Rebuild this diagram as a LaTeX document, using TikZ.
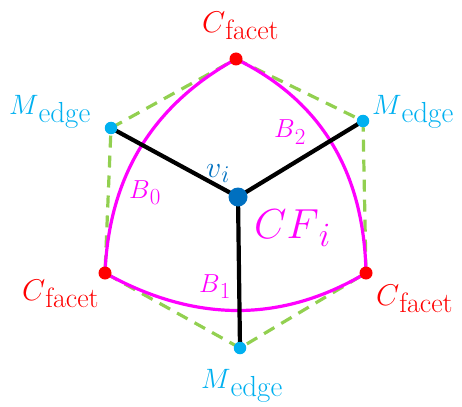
\RequirePackage{fix-cm}
\documentclass[tikz,border=0pt]{standalone}
\usepackage{tikz}
\usepackage{xcolor}
\usetikzlibrary{calc,backgrounds}
\definecolor{FacetRed}{HTML}{FF0000}
\definecolor{EdgeCyan}{HTML}{00B0F0}
\definecolor{VertexBlue}{HTML}{0070C0}
\definecolor{PatchMagenta}{HTML}{FF00FF}
\definecolor{HullGreen}{HTML}{92D050}
% lowered index in a size of its own
\newcommand{\lowidx}[3]{\raisebox{-#2pt}{\fontsize{#1}{#1}\selectfont #3}}
\tikzset{
  facetdot/.style={circle,fill=FacetRed,inner sep=0pt,minimum size=13pt},
  edgedot/.style={circle,fill=EdgeCyan,inner sep=0pt,minimum size=12.5pt},
  vertexdot/.style={circle,fill=VertexBlue,inner sep=0pt,minimum size=19pt},
  hullline/.style={HullGreen,line width=3.2pt,dash pattern=on 12pt off 8pt},
  patchline/.style={PatchMagenta,line width=3.2pt},
  spokeline/.style={black,line width=4.2pt},
  lab/.style={anchor=base west,inner sep=0pt}
}
\begin{document}
\begin{tikzpicture}[x=1pt,y=-1pt]

    \useasboundingbox (0,0) rectangle (462,406);

    % corner points and edge midpoints
    \node[facetdot] (ct) at (236,59) {};
    \node[facetdot] (cl) at (105,273) {};
    \node[facetdot] (cr) at (366,273) {};
    \node[edgedot] (ml) at (111,128) {};
    \node[edgedot] (mr) at (363,121) {};
    \node[edgedot] (mb) at (240,348) {};
    \node[vertexdot] (vi) at (238,197) {};

    \begin{scope}[on background layer]
      \draw[hullline]
        (ct.center) -- (mr.center) -- (cr.center) -- (mb.center)
        -- (cl.center) -- (ml.center) -- cycle;

      % quadratic boundary curves, control at the edge midpoint
      \draw[patchline]
        (ct.center)
        .. controls ($(ct.center)!2/3!(ml.center)$)
        and ($(cl.center)!2/3!(ml.center)$) .. (cl.center)
        .. controls ($(cl.center)!2/3!(mb.center)$)
        and ($(cr.center)!2/3!(mb.center)$) .. (cr.center)
        .. controls ($(cr.center)!2/3!(mr.center)$)
        and ($(ct.center)!2/3!(mr.center)$) .. (ct.center);

      \draw[spokeline] (vi.center) -- (ml.center);
      \draw[spokeline] (vi.center) -- (mr.center);
      \draw[spokeline] (vi.center) -- (mb.center);
    \end{scope}

    \node[lab,text=FacetRed,font=\fontsize{30}{34}\selectfont]
      (ltop) at (202,33) {$C$\lowidx{28}{7}{facet}};
    \node[lab,text=FacetRed,font=\fontsize{30}{34}\selectfont]
      (lleft) at (22,300) {$C$\lowidx{28}{7}{facet}};
    \node[lab,text=FacetRed,font=\fontsize{30}{34}\selectfont]
      (lright) at (376,305) {$C$\lowidx{28}{7}{facet}};

    \node[lab,text=EdgeCyan,font=\fontsize{28}{32}\selectfont]
      (eleft) at (9,115) {$M$\lowidx{29}{8}{edge}};
    \node[lab,text=EdgeCyan,font=\fontsize{28}{32}\selectfont]
      (eright) at (372,115) {$M$\lowidx{29}{8}{edge}};
    \node[lab,text=EdgeCyan,font=\fontsize{28}{32}\selectfont]
      (ebottom) at (201,388) {$M$\lowidx{29}{8}{edge}};

    \node[lab,text=VertexBlue,font=\fontsize{30}{34}\selectfont]
      (lvi) at (206,177) {$v$\lowidx{24}{5}{$i$}};

    \node[lab,text=PatchMagenta,font=\fontsize{26}{30}\selectfont]
      (b0) at (129,198) {$B$\lowidx{23}{6}{0}};
    \node[lab,text=PatchMagenta,font=\fontsize{26}{30}\selectfont]
      (b1) at (199,292) {$B$\lowidx{23}{6}{1}};
    \node[lab,text=PatchMagenta,font=\fontsize{26}{30}\selectfont]
      (b2) at (274,138) {$B$\lowidx{23}{6}{2}};

    \node[lab,text=PatchMagenta,font=\fontsize{42}{47}\selectfont]
      (cfi) at (254,238) {$CF$\lowidx{34}{8}{$i$}};

  \end{tikzpicture}
\end{document}
